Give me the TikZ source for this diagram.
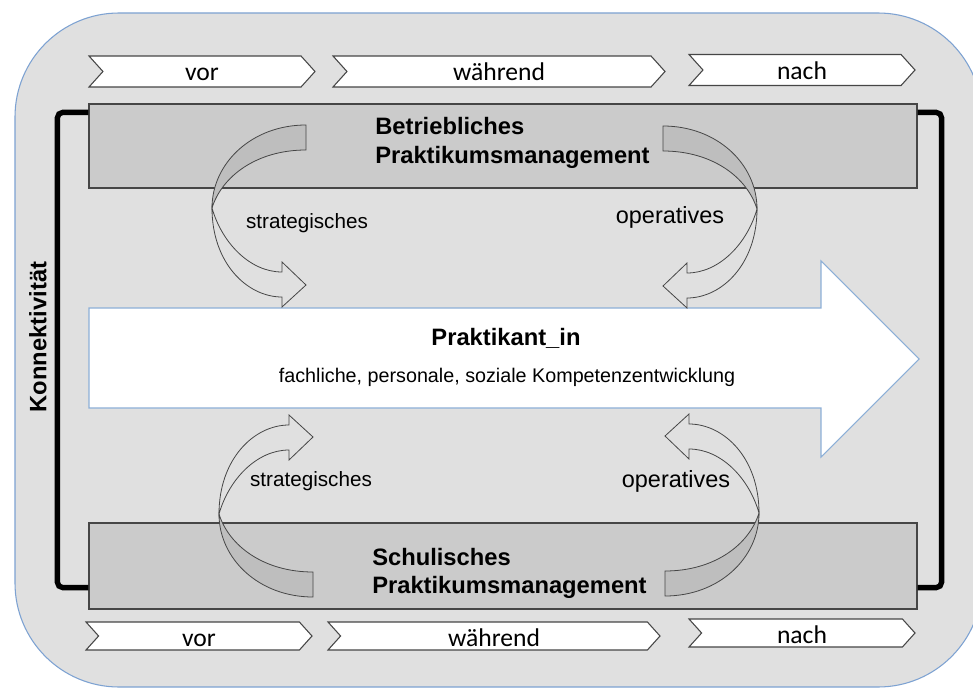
\documentclass[tikz,border=0pt]{standalone}
\usepackage{fontspec}
\setmainfont{Liberation Sans}
\newfontfamily\phasefont{Carlito}
\usetikzlibrary{shapes.symbols}

\definecolor{bgGray}{RGB}{224,224,224}
\definecolor{frameBlue}{RGB}{125,162,210}
\definecolor{boxGray}{RGB}{203,203,203}
\definecolor{backGray}{RGB}{190,190,190}
\definecolor{lineGray}{RGB}{70,70,70}
\definecolor{arrowBlue}{RGB}{140,175,215}

\begin{document}
\begin{tikzpicture}[
  x=0.75pt, y=-0.75pt,
  phase/.style={signal, signal from=west, signal to=east, signal pointer angle=96,
    draw=lineGray, fill=white, line width=0.8pt, minimum height=23.25pt,
    inner sep=0pt, font=\phasefont\fontsize{19.2}{22}\selectfont,
    text height=14.25pt, text depth=0pt},
  lowphase/.style={phase, minimum height=21pt, text height=16pt},
  mgmt/.style={rectangle, draw=lineGray, fill=boxGray, line width=0.9pt,
    minimum width=621pt, minimum height=63pt},
  title/.style={font=\bfseries\fontsize{17.8}{21}\selectfont, align=left,
    inner sep=0pt, anchor=base west},
  kind/.style={inner sep=0pt, anchor=base},
  bracket/.style={line width=4pt, rounded corners=4pt},
  bendarrow/.pic={
    \filldraw[draw=lineGray, fill=backGray, line width=0.6pt]
      (94,-83) .. controls (40,-83) and (0,-45) .. (0,0)
      .. controls (10,-32) and (45,-58) .. (94,-58) -- cycle;
    \filldraw[draw=lineGray, fill=bgGray, line width=0.6pt]
      (0,0) .. controls (0,55) and (35,89) .. (70,89) -- (70,99) -- (94,77)
      -- (70,54) -- (70,64) .. controls (38,64) and (10,35) .. (0,0) -- cycle;
  },
]
\useasboundingbox (0,0) rectangle (973,688);

% Frame
\draw[draw=frameBlue, fill=bgGray, line width=0.8pt, rounded corners=78pt]
  (15,13) rectangle (982,687);

% Phases above
\node[phase, minimum width=169.5pt] (vor-o) at (202,71.5) {vor};
\node[phase, minimum width=249pt] (waehrend-o) at (499,71.5) {während};
\node[phase, minimum width=169.5pt] (nach-o) at (802,70) {nach};

% Phases below
\node[lowphase, minimum width=169.5pt] (vor-u) at (199,636) {vor};
\node[lowphase, minimum width=249pt] (waehrend-u) at (494,636) {während};
\node[lowphase, minimum width=169.5pt] (nach-u) at (802,633) {nach};

% Management boxes
\node[mgmt] (betrieb) at (503,146) {};
\node[mgmt, minimum height=64.5pt] (schule) at (503,566) {};
\node[title] (betrieb-t) at (375,163) {Betriebliches\\Praktikumsmanagement};
\node[title] (schule-t) at (372,593) {Schulisches\\Praktikumsmanagement};

% Konnektivitaet
\coordinate (kt-l) at ([yshift=-6.75pt]betrieb.north west);
\coordinate (kb-l) at ([yshift=16.5pt]schule.south west);
\coordinate (kt-r) at ([yshift=-6.75pt]betrieb.north east);
\coordinate (kb-r) at ([yshift=16.5pt]schule.south east);
\draw[bracket] (kt-l) -- ++(-31,0) |- (kb-l);
\draw[bracket] (kt-r) -- ++(24,0) |- (kb-r);
\node[rotate=90, inner sep=0pt, font=\bfseries\fontsize{17.8}{21}\selectfont]
  (konn) at (38,337) {Konnektivität};

% Praktikant_in
\draw[draw=arrowBlue, fill=white, line width=0.8pt]
  (89,308) -- (821,308) -- (821,261) -- (919,359) -- (821,457) -- (821,408)
  -- (89,408) -- cycle;
\node[kind, font=\bfseries\fontsize{17.8}{21}\selectfont] (trainee) at (506,345) {Praktikant\_in};
\node[kind, font=\fontsize{14.8}{18}\selectfont] (growth) at (507,382)
  {fachliche, personale, soziale Kompetenzentwicklung};

% Bent arrows
\pic at (212,208) {bendarrow};
\pic[xscale=-1] at (757,209) {bendarrow};
\pic[yscale=-1] at (219,514) {bendarrow};
\pic[xscale=-1, yscale=-1] at (759,513) {bendarrow};

\node[kind, font=\fontsize{15.5}{18}\selectfont] (strat-o) at (307,228) {strategisches};
\node[kind, font=\fontsize{17.6}{20}\selectfont] (oper-o) at (670,223) {operatives};
\node[kind, font=\fontsize{15.5}{18}\selectfont] (strat-u) at (311,486) {strategisches};
\node[kind, font=\fontsize{17.6}{20}\selectfont] (oper-u) at (676,487) {operatives};

\end{tikzpicture}
\end{document}
